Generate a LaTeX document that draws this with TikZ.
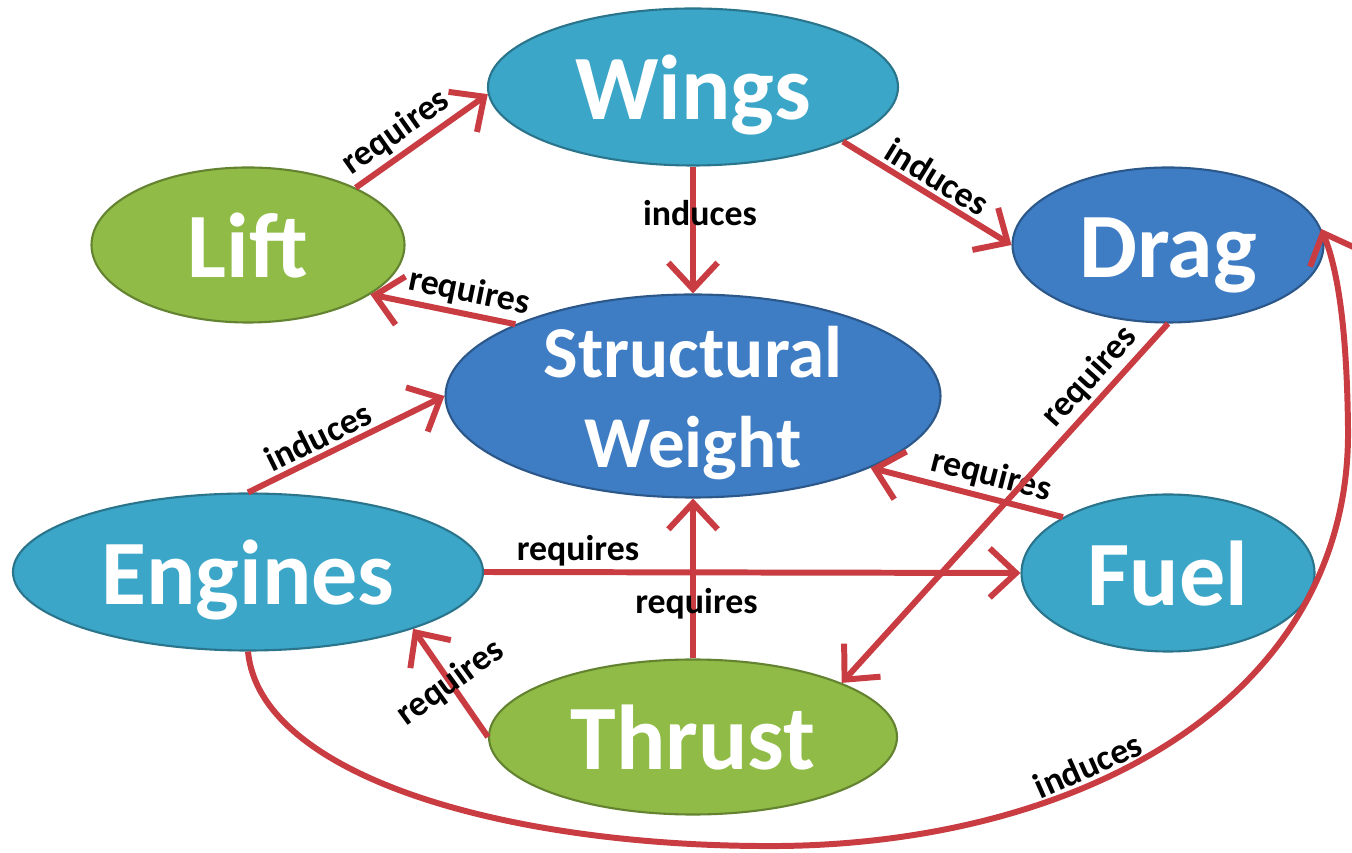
\documentclass[tikz,border=0pt]{standalone}
\usepackage{fontspec}
\setmainfont{Carlito}
\usetikzlibrary{shapes.geometric, arrows.meta}

\definecolor{lightblue}{RGB}{60, 166, 200}
\definecolor{darkblue}{RGB}{62, 124, 196}
\definecolor{leafgreen}{RGB}{143, 187, 70}
\definecolor{linkred}{RGB}{200, 60, 66}

\begin{document}
\begin{tikzpicture}[> = {Straight Barb[length = 7.5pt, width = 14pt]},
	bubble/.style = {ellipse, inner sep = 0pt, line width = 0.6pt, text = white,
		font = \fontsize{26.2}{30}\selectfont\bfseries, text height = 21pt, text depth = 2.6pt},
	light/.style = {bubble, fill = lightblue, draw = lightblue!70!black},
	dark/.style = {bubble, fill = darkblue, draw = darkblue!70!black},
	leafy/.style = {bubble, fill = leafgreen, draw = leafgreen!70!black},
	link/.style = {->, line width = 1.7pt, draw = linkred},
	word/.style = {font = \fontsize{10.2}{12}\selectfont\bfseries, text = black, inner sep = 1pt}]

	\useasboundingbox (0, 0) rectangle (13.52, 8.52);

	% Concepts
	
	\node [light, minimum width = 4.10cm, minimum height = 1.57cm] (wings) at (6.93, 7.65) {Wings};
	\node [leafy, minimum width = 3.13cm, minimum height = 1.55cm] (lift) at (2.48, 6.07) {Lift};
	\node [dark, minimum width = 3.11cm, minimum height = 1.55cm] (drag) at (11.68, 6.07) {Drag};
	\node [dark, minimum width = 4.95cm, minimum height = 2.03cm, font = \fontsize{20.8}{25.6}\selectfont\bfseries,
		text height = 0pt, text depth = 0pt] (weight) at (6.93, 4.56)
		{\raisebox{-7.5pt}{\begin{tabular}{@{}c@{}}Structural\\Weight\end{tabular}}};
	\node [light, minimum width = 4.70cm, minimum height = 1.57cm] (engines) at (2.48, 2.80) {Engines};
	\node [light, minimum width = 2.93cm, minimum height = 1.57cm] (fuel) at (11.68, 2.79) {Fuel};
	\node [leafy, minimum width = 4.08cm, minimum height = 1.55cm] (thrust) at (6.93, 1.15) {Thrust};
	
	% Links
	
	\draw [link] (lift.28) -- (wings.182) node [word, pos = 0.4, sloped, above] {requires};
	\draw [link] (wings.-20) -- (drag.west) node [word, midway, sloped, above] {induces};
	\draw [link] (wings.south) -- (weight.north) node [word, pos = 0.37, xshift = 2pt] {induces};
	\draw [link] (weight.158) -- (lift.-22) node [word, pos = 0.35, sloped, above] {requires};
	\draw [link] (engines.north) -- (weight.west) node [word, pos = 0.4, sloped, above] {induces};
	\draw [link] (fuel.152) -- (weight.-22) node [word, pos = 0.4, sloped, above] {requires};
	\draw [link] (engines.east) -- (fuel.west) node [word, pos = 0.175, above] {requires};
	\draw [link] (thrust.north) -- (weight.south) node [word, pos = 0.34, xshift = 1pt] {requires};
	\draw [link] (thrust.west) -- (engines.-19) node [word, midway, rotate = 36] {requires};
	\draw [link] (drag.south) -- (thrust.20) node [word, pos = 0.19, sloped, above] {requires};
	
	% Long curve
	
	\draw [link] (engines.south) .. controls (2.60, 0.75) and (5.10, 0.04) .. (7.80, 0.06)
		.. controls (10.80, 0.09) and (13.50, 1.52) .. (13.48, 4.22)
		node [word, pos = 0.38, sloped, above] {induces}
		.. controls (13.47, 5.22) and (13.38, 5.82) .. (drag.6);

\end{tikzpicture}
\end{document}
